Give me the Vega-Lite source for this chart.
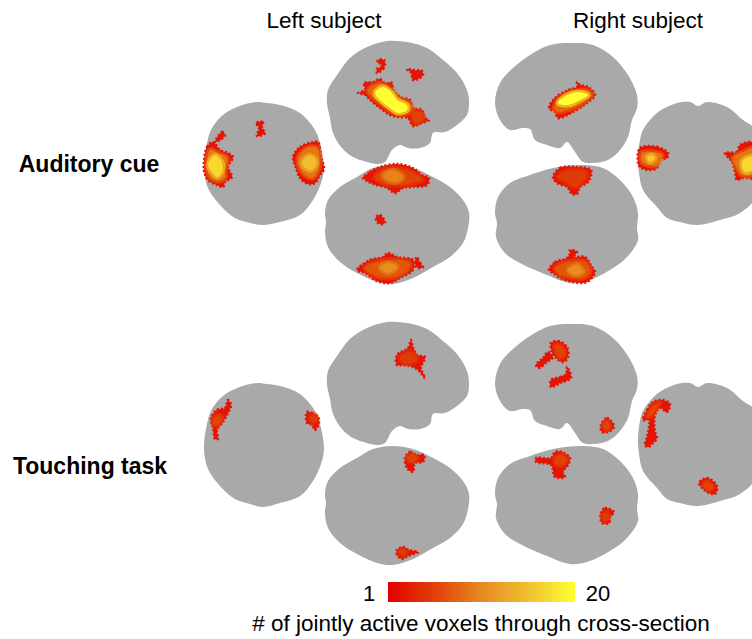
{"$schema":"https://vega.github.io/schema/vega-lite/v6.json","width":752,"height":639,"padding":0,"autosize":"none","background":"white","config":{"view":{"stroke":null}},
"datasets":{
"brains":[
{"s":"a1","x":327,"y":103},{"s":"a1","x":328,"y":90},{"s":"a1","x":337,"y":75},{"s":"a1","x":350,"y":58},{"s":"a1","x":367,"y":47},{"s":"a1","x":387,"y":41},{"s":"a1","x":407,"y":42},{"s":"a1","x":427,"y":48},{"s":"a1","x":443,"y":60},{"s":"a1","x":457,"y":73},{"s":"a1","x":467,"y":90},{"s":"a1","x":469,"y":103},{"s":"a1","x":467,"y":115},{"s":"a1","x":457,"y":125},{"s":"a1","x":445,"y":132},{"s":"a1","x":433,"y":133},{"s":"a1","x":430,"y":143},{"s":"a1","x":420,"y":148},{"s":"a1","x":408,"y":148},{"s":"a1","x":400,"y":145},{"s":"a1","x":392,"y":150},{"s":"a1","x":385,"y":162},{"s":"a1","x":377,"y":164},{"s":"a1","x":367,"y":162},{"s":"a1","x":353,"y":157},{"s":"a1","x":342,"y":148},{"s":"a1","x":333,"y":133},{"s":"a1","x":330,"y":118},
{"s":"a2","x":325,"y":213},{"s":"a2","x":328,"y":200},{"s":"a2","x":340,"y":187},{"s":"a2","x":357,"y":177},{"s":"a2","x":373,"y":168},{"s":"a2","x":393,"y":165},{"s":"a2","x":413,"y":168},{"s":"a2","x":433,"y":177},{"s":"a2","x":450,"y":187},{"s":"a2","x":463,"y":200},{"s":"a2","x":469,"y":213},{"s":"a2","x":468,"y":228},{"s":"a2","x":463,"y":243},{"s":"a2","x":450,"y":257},{"s":"a2","x":433,"y":267},{"s":"a2","x":413,"y":278},{"s":"a2","x":393,"y":284},{"s":"a2","x":377,"y":282},{"s":"a2","x":357,"y":273},{"s":"a2","x":340,"y":262},{"s":"a2","x":328,"y":247},{"s":"a2","x":325,"y":232},{"s":"a2","x":326,"y":222},
{"s":"a3","x":257,"y":102},{"s":"a3","x":237,"y":107},{"s":"a3","x":223,"y":115},{"s":"a3","x":212,"y":128},{"s":"a3","x":207,"y":143},{"s":"a3","x":204,"y":168},{"s":"a3","x":208,"y":188},{"s":"a3","x":220,"y":205},{"s":"a3","x":235,"y":218},{"s":"a3","x":250,"y":223},{"s":"a3","x":263,"y":225},{"s":"a3","x":280,"y":222},{"s":"a3","x":300,"y":215},{"s":"a3","x":313,"y":200},{"s":"a3","x":321,"y":183},{"s":"a3","x":324,"y":168},{"s":"a3","x":320,"y":143},{"s":"a3","x":315,"y":130},{"s":"a3","x":300,"y":113},{"s":"a3","x":280,"y":105},{"s":"a3","x":267,"y":103},
{"s":"a4","x":495,"y":103},{"s":"a4","x":500,"y":83},{"s":"a4","x":513,"y":68},{"s":"a4","x":530,"y":55},{"s":"a4","x":550,"y":45},{"s":"a4","x":570,"y":43},{"s":"a4","x":593,"y":45},{"s":"a4","x":613,"y":57},{"s":"a4","x":628,"y":75},{"s":"a4","x":637,"y":95},{"s":"a4","x":637,"y":108},{"s":"a4","x":632,"y":120},{"s":"a4","x":628,"y":137},{"s":"a4","x":620,"y":150},{"s":"a4","x":608,"y":160},{"s":"a4","x":593,"y":163},{"s":"a4","x":583,"y":162},{"s":"a4","x":575,"y":152},{"s":"a4","x":567,"y":142},{"s":"a4","x":560,"y":148},{"s":"a4","x":547,"y":145},{"s":"a4","x":535,"y":140},{"s":"a4","x":530,"y":129},{"s":"a4","x":522,"y":128},{"s":"a4","x":510,"y":130},{"s":"a4","x":500,"y":120},
{"s":"a5","x":495,"y":213},{"s":"a5","x":498,"y":197},{"s":"a5","x":510,"y":183},{"s":"a5","x":530,"y":175},{"s":"a5","x":553,"y":168},{"s":"a5","x":583,"y":165},{"s":"a5","x":603,"y":168},{"s":"a5","x":620,"y":180},{"s":"a5","x":633,"y":197},{"s":"a5","x":638,"y":213},{"s":"a5","x":637,"y":228},{"s":"a5","x":638,"y":240},{"s":"a5","x":627,"y":257},{"s":"a5","x":610,"y":270},{"s":"a5","x":587,"y":281},{"s":"a5","x":570,"y":283},{"s":"a5","x":547,"y":275},{"s":"a5","x":520,"y":263},{"s":"a5","x":505,"y":253},{"s":"a5","x":496,"y":237},{"s":"a5","x":497,"y":223},
{"s":"a6","x":640,"y":140},{"s":"a6","x":643,"y":130},{"s":"a6","x":657,"y":113},{"s":"a6","x":677,"y":103},{"s":"a6","x":690,"y":102},{"s":"a6","x":698,"y":106},{"s":"a6","x":707,"y":102},{"s":"a6","x":727,"y":107},{"s":"a6","x":743,"y":120},{"s":"a6","x":756,"y":130},{"s":"a6","x":760,"y":160},{"s":"a6","x":756,"y":197},{"s":"a6","x":740,"y":213},{"s":"a6","x":720,"y":220},{"s":"a6","x":697,"y":225},{"s":"a6","x":680,"y":222},{"s":"a6","x":667,"y":218},{"s":"a6","x":657,"y":207},{"s":"a6","x":643,"y":190},{"s":"a6","x":639,"y":173},{"s":"a6","x":638,"y":157},
{"s":"b1","x":327,"y":384},{"s":"b1","x":328,"y":371},{"s":"b1","x":337,"y":356},{"s":"b1","x":350,"y":339},{"s":"b1","x":367,"y":328},{"s":"b1","x":387,"y":322},{"s":"b1","x":407,"y":323},{"s":"b1","x":427,"y":329},{"s":"b1","x":443,"y":341},{"s":"b1","x":457,"y":354},{"s":"b1","x":467,"y":371},{"s":"b1","x":469,"y":384},{"s":"b1","x":467,"y":396},{"s":"b1","x":457,"y":406},{"s":"b1","x":445,"y":413},{"s":"b1","x":433,"y":414},{"s":"b1","x":430,"y":424},{"s":"b1","x":420,"y":429},{"s":"b1","x":408,"y":429},{"s":"b1","x":400,"y":426},{"s":"b1","x":392,"y":431},{"s":"b1","x":385,"y":443},{"s":"b1","x":377,"y":445},{"s":"b1","x":367,"y":443},{"s":"b1","x":353,"y":438},{"s":"b1","x":342,"y":429},{"s":"b1","x":333,"y":414},{"s":"b1","x":330,"y":399},
{"s":"b2","x":325,"y":494},{"s":"b2","x":328,"y":481},{"s":"b2","x":340,"y":468},{"s":"b2","x":357,"y":458},{"s":"b2","x":373,"y":449},{"s":"b2","x":393,"y":446},{"s":"b2","x":413,"y":449},{"s":"b2","x":433,"y":458},{"s":"b2","x":450,"y":468},{"s":"b2","x":463,"y":481},{"s":"b2","x":469,"y":494},{"s":"b2","x":468,"y":509},{"s":"b2","x":463,"y":524},{"s":"b2","x":450,"y":538},{"s":"b2","x":433,"y":548},{"s":"b2","x":413,"y":559},{"s":"b2","x":393,"y":565},{"s":"b2","x":377,"y":563},{"s":"b2","x":357,"y":554},{"s":"b2","x":340,"y":543},{"s":"b2","x":328,"y":528},{"s":"b2","x":325,"y":513},{"s":"b2","x":326,"y":503},
{"s":"b3","x":257,"y":383},{"s":"b3","x":237,"y":388},{"s":"b3","x":223,"y":396},{"s":"b3","x":212,"y":409},{"s":"b3","x":207,"y":424},{"s":"b3","x":204,"y":449},{"s":"b3","x":208,"y":469},{"s":"b3","x":220,"y":486},{"s":"b3","x":235,"y":499},{"s":"b3","x":250,"y":504},{"s":"b3","x":263,"y":507},{"s":"b3","x":280,"y":503},{"s":"b3","x":300,"y":496},{"s":"b3","x":313,"y":481},{"s":"b3","x":321,"y":464},{"s":"b3","x":324,"y":449},{"s":"b3","x":320,"y":424},{"s":"b3","x":315,"y":411},{"s":"b3","x":300,"y":394},{"s":"b3","x":280,"y":386},{"s":"b3","x":267,"y":384},
{"s":"b4","x":495,"y":384},{"s":"b4","x":500,"y":364},{"s":"b4","x":513,"y":349},{"s":"b4","x":530,"y":336},{"s":"b4","x":550,"y":326},{"s":"b4","x":570,"y":324},{"s":"b4","x":593,"y":326},{"s":"b4","x":613,"y":338},{"s":"b4","x":628,"y":356},{"s":"b4","x":637,"y":376},{"s":"b4","x":637,"y":389},{"s":"b4","x":632,"y":401},{"s":"b4","x":628,"y":418},{"s":"b4","x":620,"y":431},{"s":"b4","x":608,"y":441},{"s":"b4","x":593,"y":444},{"s":"b4","x":583,"y":443},{"s":"b4","x":575,"y":433},{"s":"b4","x":567,"y":423},{"s":"b4","x":560,"y":429},{"s":"b4","x":547,"y":426},{"s":"b4","x":535,"y":421},{"s":"b4","x":530,"y":410},{"s":"b4","x":522,"y":409},{"s":"b4","x":510,"y":411},{"s":"b4","x":500,"y":401},
{"s":"b5","x":495,"y":494},{"s":"b5","x":498,"y":478},{"s":"b5","x":510,"y":464},{"s":"b5","x":530,"y":456},{"s":"b5","x":553,"y":449},{"s":"b5","x":583,"y":446},{"s":"b5","x":603,"y":449},{"s":"b5","x":620,"y":461},{"s":"b5","x":633,"y":478},{"s":"b5","x":638,"y":494},{"s":"b5","x":637,"y":509},{"s":"b5","x":638,"y":521},{"s":"b5","x":627,"y":538},{"s":"b5","x":610,"y":551},{"s":"b5","x":587,"y":562},{"s":"b5","x":570,"y":564},{"s":"b5","x":547,"y":556},{"s":"b5","x":520,"y":544},{"s":"b5","x":505,"y":534},{"s":"b5","x":496,"y":518},{"s":"b5","x":497,"y":504},
{"s":"b6","x":640,"y":421},{"s":"b6","x":643,"y":411},{"s":"b6","x":657,"y":394},{"s":"b6","x":677,"y":384},{"s":"b6","x":690,"y":383},{"s":"b6","x":698,"y":387},{"s":"b6","x":707,"y":383},{"s":"b6","x":727,"y":388},{"s":"b6","x":743,"y":401},{"s":"b6","x":756,"y":411},{"s":"b6","x":760,"y":441},{"s":"b6","x":756,"y":478},{"s":"b6","x":740,"y":494},{"s":"b6","x":720,"y":501},{"s":"b6","x":697,"y":506},{"s":"b6","x":680,"y":503},{"s":"b6","x":667,"y":499},{"s":"b6","x":657,"y":488},{"s":"b6","x":643,"y":471},{"s":"b6","x":639,"y":454},{"s":"b6","x":638,"y":438}
],
"hot":[
{"s":"h01","v":1,"x":358,"y":93},{"s":"h01","v":1,"x":365,"y":90},{"s":"h01","v":1,"x":364,"y":83},{"s":"h01","v":1,"x":373,"y":82},{"s":"h01","v":1,"x":380,"y":79},{"s":"h01","v":1,"x":385,"y":83},{"s":"h01","v":1,"x":392,"y":83},{"s":"h01","v":1,"x":393,"y":90},{"s":"h01","v":1,"x":400,"y":97},{"s":"h01","v":1,"x":410,"y":100},{"s":"h01","v":1,"x":413,"y":108},{"s":"h01","v":1,"x":422,"y":110},{"s":"h01","v":1,"x":425,"y":118},{"s":"h01","v":1,"x":429,"y":120},{"s":"h01","v":1,"x":422,"y":123},{"s":"h01","v":1,"x":413,"y":126},{"s":"h01","v":1,"x":408,"y":118},{"s":"h01","v":1,"x":398,"y":117},{"s":"h01","v":1,"x":390,"y":115},{"s":"h01","v":1,"x":380,"y":108},{"s":"h01","v":1,"x":370,"y":100},{"s":"h01","v":1,"x":365,"y":95},
{"s":"h02","v":8,"x":368,"y":90},{"s":"h02","v":8,"x":380,"y":83},{"s":"h02","v":8,"x":390,"y":88},{"s":"h02","v":8,"x":400,"y":98},{"s":"h02","v":8,"x":410,"y":103},{"s":"h02","v":8,"x":412,"y":110},{"s":"h02","v":8,"x":403,"y":115},{"s":"h02","v":8,"x":392,"y":112},{"s":"h02","v":8,"x":380,"y":103},{"s":"h02","v":8,"x":372,"y":97},
{"s":"h03","v":6,"x":413,"y":112},{"s":"h03","v":6,"x":422,"y":113},{"s":"h03","v":6,"x":423,"y":120},{"s":"h03","v":6,"x":415,"y":123},
{"s":"h04","v":20,"x":375,"y":93},{"s":"h04","v":20,"x":383,"y":87},{"s":"h04","v":20,"x":392,"y":93},{"s":"h04","v":20,"x":397,"y":100},{"s":"h04","v":20,"x":407,"y":105},{"s":"h04","v":20,"x":407,"y":110},{"s":"h04","v":20,"x":398,"y":113},{"s":"h04","v":20,"x":390,"y":108},{"s":"h04","v":20,"x":382,"y":102},
{"s":"h05","v":1,"x":377,"y":73},{"s":"h05","v":1,"x":383,"y":69},{"s":"h05","v":1,"x":385,"y":65},{"s":"h05","v":1,"x":384,"y":60},{"s":"h05","v":1,"x":378,"y":60},{"s":"h05","v":1,"x":378,"y":63},{"s":"h05","v":1,"x":381,"y":64},{"s":"h05","v":1,"x":381,"y":67},{"s":"h05","v":1,"x":377,"y":69},
{"s":"h06","v":1,"x":407,"y":69},{"s":"h06","v":1,"x":413,"y":70},{"s":"h06","v":1,"x":422,"y":71},{"s":"h06","v":1,"x":423,"y":75},{"s":"h06","v":1,"x":418,"y":79},{"s":"h06","v":1,"x":413,"y":80},{"s":"h06","v":1,"x":411,"y":73},
{"s":"h07","v":1,"x":363,"y":178},{"s":"h07","v":1,"x":370,"y":172},{"s":"h07","v":1,"x":380,"y":167},{"s":"h07","v":1,"x":397,"y":164},{"s":"h07","v":1,"x":413,"y":168},{"s":"h07","v":1,"x":422,"y":175},{"s":"h07","v":1,"x":429,"y":178},{"s":"h07","v":1,"x":427,"y":185},{"s":"h07","v":1,"x":413,"y":187},{"s":"h07","v":1,"x":403,"y":188},{"s":"h07","v":1,"x":395,"y":193},{"s":"h07","v":1,"x":387,"y":188},{"s":"h07","v":1,"x":373,"y":184},{"s":"h07","v":1,"x":367,"y":181},
{"s":"h08","v":6,"x":375,"y":177},{"s":"h08","v":6,"x":383,"y":170},{"s":"h08","v":6,"x":397,"y":168},{"s":"h08","v":6,"x":413,"y":173},{"s":"h08","v":6,"x":422,"y":180},{"s":"h08","v":6,"x":413,"y":183},{"s":"h08","v":6,"x":397,"y":185},{"s":"h08","v":6,"x":382,"y":183},
{"s":"h09","v":10,"x":383,"y":175},{"s":"h09","v":10,"x":393,"y":170},{"s":"h09","v":10,"x":403,"y":177},{"s":"h09","v":10,"x":397,"y":182},{"s":"h09","v":10,"x":387,"y":180},
{"s":"h10","v":1,"x":376,"y":217},{"s":"h10","v":1,"x":380,"y":215},{"s":"h10","v":1,"x":385,"y":222},{"s":"h10","v":1,"x":383,"y":224},{"s":"h10","v":1,"x":378,"y":223},
{"s":"h11","v":1,"x":357,"y":270},{"s":"h11","v":1,"x":370,"y":260},{"s":"h11","v":1,"x":383,"y":257},{"s":"h11","v":1,"x":388,"y":253},{"s":"h11","v":1,"x":397,"y":257},{"s":"h11","v":1,"x":413,"y":260},{"s":"h11","v":1,"x":413,"y":270},{"s":"h11","v":1,"x":400,"y":278},{"s":"h11","v":1,"x":390,"y":283},{"s":"h11","v":1,"x":377,"y":281},{"s":"h11","v":1,"x":365,"y":273},
{"s":"h12","v":1,"x":417,"y":257},{"s":"h12","v":1,"x":420,"y":263},{"s":"h12","v":1,"x":423,"y":267},{"s":"h12","v":1,"x":418,"y":268},{"s":"h12","v":1,"x":415,"y":263},
{"s":"h13","v":7,"x":365,"y":268},{"s":"h13","v":7,"x":377,"y":262},{"s":"h13","v":7,"x":397,"y":260},{"s":"h13","v":7,"x":410,"y":263},{"s":"h13","v":7,"x":408,"y":270},{"s":"h13","v":7,"x":395,"y":277},{"s":"h13","v":7,"x":380,"y":277},{"s":"h13","v":7,"x":370,"y":273},
{"s":"h14","v":11,"x":380,"y":267},{"s":"h14","v":11,"x":388,"y":263},{"s":"h14","v":11,"x":397,"y":267},{"s":"h14","v":11,"x":388,"y":273},
{"s":"h15","v":1,"x":204,"y":170},{"s":"h15","v":1,"x":207,"y":147},{"s":"h15","v":1,"x":213,"y":142},{"s":"h15","v":1,"x":220,"y":150},{"s":"h15","v":1,"x":228,"y":153},{"s":"h15","v":1,"x":233,"y":157},{"s":"h15","v":1,"x":228,"y":167},{"s":"h15","v":1,"x":232,"y":177},{"s":"h15","v":1,"x":225,"y":182},{"s":"h15","v":1,"x":223,"y":187},{"s":"h15","v":1,"x":217,"y":185},{"s":"h15","v":1,"x":208,"y":180},
{"s":"h16","v":9,"x":207,"y":168},{"s":"h16","v":9,"x":210,"y":150},{"s":"h16","v":9,"x":218,"y":153},{"s":"h16","v":9,"x":227,"y":158},{"s":"h16","v":9,"x":225,"y":170},{"s":"h16","v":9,"x":225,"y":178},{"s":"h16","v":9,"x":217,"y":181},{"s":"h16","v":9,"x":210,"y":177},
{"s":"h17","v":17,"x":208,"y":165},{"s":"h17","v":17,"x":215,"y":155},{"s":"h17","v":17,"x":222,"y":162},{"s":"h17","v":17,"x":222,"y":172},{"s":"h17","v":17,"x":217,"y":177},{"s":"h17","v":17,"x":212,"y":172},
{"s":"h18","v":1,"x":215,"y":142},{"s":"h18","v":1,"x":222,"y":132},{"s":"h18","v":1,"x":225,"y":135},{"s":"h18","v":1,"x":220,"y":140},
{"s":"h19","v":1,"x":256,"y":123},{"s":"h19","v":1,"x":263,"y":122},{"s":"h19","v":1,"x":262,"y":128},{"s":"h19","v":1,"x":265,"y":133},{"s":"h19","v":1,"x":257,"y":136},{"s":"h19","v":1,"x":259,"y":128},
{"s":"h20","v":1,"x":293,"y":157},{"s":"h20","v":1,"x":300,"y":147},{"s":"h20","v":1,"x":313,"y":142},{"s":"h20","v":1,"x":318,"y":142},{"s":"h20","v":1,"x":321,"y":157},{"s":"h20","v":1,"x":324,"y":169},{"s":"h20","v":1,"x":320,"y":175},{"s":"h20","v":1,"x":315,"y":183},{"s":"h20","v":1,"x":308,"y":184},{"s":"h20","v":1,"x":300,"y":178},{"s":"h20","v":1,"x":296,"y":168},
{"s":"h21","v":9,"x":298,"y":158},{"s":"h21","v":9,"x":307,"y":148},{"s":"h21","v":9,"x":317,"y":148},{"s":"h21","v":9,"x":319,"y":168},{"s":"h21","v":9,"x":312,"y":178},{"s":"h21","v":9,"x":302,"y":172},
{"s":"h22","v":15,"x":302,"y":162},{"s":"h22","v":15,"x":310,"y":155},{"s":"h22","v":15,"x":317,"y":162},{"s":"h22","v":15,"x":312,"y":170},{"s":"h22","v":15,"x":305,"y":168},
{"s":"h23","v":1,"x":549,"y":108},{"s":"h23","v":1,"x":555,"y":98},{"s":"h23","v":1,"x":568,"y":90},{"s":"h23","v":1,"x":577,"y":87},{"s":"h23","v":1,"x":577,"y":82},{"s":"h23","v":1,"x":580,"y":85},{"s":"h23","v":1,"x":588,"y":87},{"s":"h23","v":1,"x":595,"y":95},{"s":"h23","v":1,"x":587,"y":103},{"s":"h23","v":1,"x":573,"y":112},{"s":"h23","v":1,"x":558,"y":118},{"s":"h23","v":1,"x":555,"y":112},
{"s":"h24","v":8,"x":554,"y":108},{"s":"h24","v":8,"x":560,"y":98},{"s":"h24","v":8,"x":572,"y":92},{"s":"h24","v":8,"x":587,"y":90},{"s":"h24","v":8,"x":592,"y":95},{"s":"h24","v":8,"x":580,"y":105},{"s":"h24","v":8,"x":567,"y":110},{"s":"h24","v":8,"x":558,"y":112},
{"s":"h25","v":20,"x":558,"y":103},{"s":"h25","v":20,"x":567,"y":95},{"s":"h25","v":20,"x":578,"y":92},{"s":"h25","v":20,"x":588,"y":95},{"s":"h25","v":20,"x":580,"y":100},{"s":"h25","v":20,"x":568,"y":105},
{"s":"h26","v":1,"x":553,"y":177},{"s":"h26","v":1,"x":560,"y":168},{"s":"h26","v":1,"x":577,"y":167},{"s":"h26","v":1,"x":591,"y":170},{"s":"h26","v":1,"x":588,"y":182},{"s":"h26","v":1,"x":580,"y":187},{"s":"h26","v":1,"x":577,"y":194},{"s":"h26","v":1,"x":572,"y":194},{"s":"h26","v":1,"x":567,"y":187},{"s":"h26","v":1,"x":557,"y":183},
{"s":"h27","v":5,"x":558,"y":177},{"s":"h27","v":5,"x":563,"y":172},{"s":"h27","v":5,"x":577,"y":170},{"s":"h27","v":5,"x":587,"y":173},{"s":"h27","v":5,"x":583,"y":182},{"s":"h27","v":5,"x":575,"y":187},{"s":"h27","v":5,"x":567,"y":183},
{"s":"h28","v":1,"x":549,"y":270},{"s":"h28","v":1,"x":555,"y":262},{"s":"h28","v":1,"x":567,"y":258},{"s":"h28","v":1,"x":570,"y":253},{"s":"h28","v":1,"x":570,"y":250},{"s":"h28","v":1,"x":577,"y":252},{"s":"h28","v":1,"x":573,"y":257},{"s":"h28","v":1,"x":585,"y":257},{"s":"h28","v":1,"x":592,"y":267},{"s":"h28","v":1,"x":595,"y":272},{"s":"h28","v":1,"x":587,"y":282},{"s":"h28","v":1,"x":573,"y":282},{"s":"h28","v":1,"x":560,"y":278},{"s":"h28","v":1,"x":553,"y":273},
{"s":"h29","v":7,"x":555,"y":268},{"s":"h29","v":7,"x":568,"y":262},{"s":"h29","v":7,"x":585,"y":262},{"s":"h29","v":7,"x":590,"y":272},{"s":"h29","v":7,"x":583,"y":278},{"s":"h29","v":7,"x":568,"y":277},{"s":"h29","v":7,"x":560,"y":275},
{"s":"h30","v":11,"x":568,"y":270},{"s":"h30","v":11,"x":577,"y":265},{"s":"h30","v":11,"x":583,"y":272},{"s":"h30","v":11,"x":575,"y":275},
{"s":"h31","v":1,"x":640,"y":148},{"s":"h31","v":1,"x":657,"y":147},{"s":"h31","v":1,"x":668,"y":153},{"s":"h31","v":1,"x":667,"y":158},{"s":"h31","v":1,"x":660,"y":160},{"s":"h31","v":1,"x":657,"y":168},{"s":"h31","v":1,"x":648,"y":170},{"s":"h31","v":1,"x":640,"y":167},{"s":"h31","v":1,"x":638,"y":163},
{"s":"h32","v":9,"x":642,"y":153},{"s":"h32","v":9,"x":653,"y":152},{"s":"h32","v":9,"x":662,"y":155},{"s":"h32","v":9,"x":657,"y":165},{"s":"h32","v":9,"x":647,"y":165},{"s":"h32","v":9,"x":642,"y":162},
{"s":"h33","v":16,"x":647,"y":157},{"s":"h33","v":16,"x":652,"y":155},{"s":"h33","v":16,"x":655,"y":158},{"s":"h33","v":16,"x":650,"y":162},
{"s":"h34","v":1,"x":725,"y":153},{"s":"h34","v":1,"x":737,"y":152},{"s":"h34","v":1,"x":740,"y":145},{"s":"h34","v":1,"x":756,"y":143},{"s":"h34","v":1,"x":756,"y":177},{"s":"h34","v":1,"x":743,"y":178},{"s":"h34","v":1,"x":737,"y":180},{"s":"h34","v":1,"x":735,"y":172},{"s":"h34","v":1,"x":732,"y":162},
{"s":"h35","v":9,"x":733,"y":158},{"s":"h35","v":9,"x":743,"y":152},{"s":"h35","v":9,"x":756,"y":148},{"s":"h35","v":9,"x":756,"y":173},{"s":"h35","v":9,"x":742,"y":175},{"s":"h35","v":9,"x":737,"y":168},
{"s":"h36","v":17,"x":742,"y":162},{"s":"h36","v":17,"x":748,"y":157},{"s":"h36","v":17,"x":756,"y":157},{"s":"h36","v":17,"x":756,"y":168},{"s":"h36","v":17,"x":745,"y":172},
{"s":"h37","v":1,"x":397,"y":355},{"s":"h37","v":1,"x":408,"y":348},{"s":"h37","v":1,"x":411,"y":340},{"s":"h37","v":1,"x":413,"y":347},{"s":"h37","v":1,"x":417,"y":355},{"s":"h37","v":1,"x":425,"y":357},{"s":"h37","v":1,"x":421,"y":368},{"s":"h37","v":1,"x":425,"y":378},{"s":"h37","v":1,"x":420,"y":372},{"s":"h37","v":1,"x":413,"y":367},{"s":"h37","v":1,"x":403,"y":365},{"s":"h37","v":1,"x":397,"y":365},
{"s":"h38","v":5,"x":400,"y":358},{"s":"h38","v":5,"x":410,"y":352},{"s":"h38","v":5,"x":417,"y":358},{"s":"h38","v":5,"x":413,"y":363},{"s":"h38","v":5,"x":403,"y":363},
{"s":"h39","v":1,"x":405,"y":458},{"s":"h39","v":1,"x":410,"y":452},{"s":"h39","v":1,"x":417,"y":455},{"s":"h39","v":1,"x":424,"y":455},{"s":"h39","v":1,"x":423,"y":462},{"s":"h39","v":1,"x":415,"y":463},{"s":"h39","v":1,"x":413,"y":472},{"s":"h39","v":1,"x":407,"y":468},
{"s":"h40","v":6,"x":407,"y":458},{"s":"h40","v":6,"x":412,"y":454},{"s":"h40","v":6,"x":417,"y":458},{"s":"h40","v":6,"x":413,"y":462},
{"s":"h41","v":1,"x":397,"y":550},{"s":"h41","v":1,"x":403,"y":547},{"s":"h41","v":1,"x":409,"y":550},{"s":"h41","v":1,"x":418,"y":552},{"s":"h41","v":1,"x":408,"y":556},{"s":"h41","v":1,"x":402,"y":559},{"s":"h41","v":1,"x":397,"y":555},
{"s":"h42","v":5,"x":399,"y":551},{"s":"h42","v":5,"x":404,"y":549},{"s":"h42","v":5,"x":407,"y":552},{"s":"h42","v":5,"x":403,"y":556},
{"s":"h43","v":1,"x":211,"y":418},{"s":"h43","v":1,"x":217,"y":410},{"s":"h43","v":1,"x":225,"y":408},{"s":"h43","v":1,"x":228,"y":400},{"s":"h43","v":1,"x":231,"y":405},{"s":"h43","v":1,"x":228,"y":413},{"s":"h43","v":1,"x":223,"y":422},{"s":"h43","v":1,"x":217,"y":430},{"s":"h43","v":1,"x":218,"y":439},{"s":"h43","v":1,"x":215,"y":439},{"s":"h43","v":1,"x":213,"y":428},
{"s":"h44","v":6,"x":213,"y":420},{"s":"h44","v":6,"x":218,"y":415},{"s":"h44","v":6,"x":222,"y":418},{"s":"h44","v":6,"x":218,"y":425},{"s":"h44","v":6,"x":214,"y":425},
{"s":"h45","v":1,"x":307,"y":412},{"s":"h45","v":1,"x":312,"y":413},{"s":"h45","v":1,"x":318,"y":417},{"s":"h45","v":1,"x":319,"y":423},{"s":"h45","v":1,"x":315,"y":430},{"s":"h45","v":1,"x":312,"y":425},{"s":"h45","v":1,"x":307,"y":423},
{"s":"h46","v":5,"x":310,"y":417},{"s":"h46","v":5,"x":315,"y":415},{"s":"h46","v":5,"x":317,"y":420},{"s":"h46","v":5,"x":313,"y":423},
{"s":"h47","v":1,"x":551,"y":343},{"s":"h47","v":1,"x":558,"y":341},{"s":"h47","v":1,"x":567,"y":347},{"s":"h47","v":1,"x":568,"y":357},{"s":"h47","v":1,"x":563,"y":362},{"s":"h47","v":1,"x":555,"y":357},{"s":"h47","v":1,"x":552,"y":352},
{"s":"h48","v":6,"x":555,"y":345},{"s":"h48","v":6,"x":562,"y":347},{"s":"h48","v":6,"x":565,"y":355},{"s":"h48","v":6,"x":560,"y":358},{"s":"h48","v":6,"x":556,"y":352},
{"s":"h49","v":1,"x":536,"y":365},{"s":"h49","v":1,"x":543,"y":358},{"s":"h49","v":1,"x":548,"y":352},{"s":"h49","v":1,"x":553,"y":357},{"s":"h49","v":1,"x":547,"y":362},{"s":"h49","v":1,"x":539,"y":368},
{"s":"h50","v":1,"x":551,"y":380},{"s":"h50","v":1,"x":560,"y":377},{"s":"h50","v":1,"x":566,"y":374},{"s":"h50","v":1,"x":567,"y":367},{"s":"h50","v":1,"x":571,"y":378},{"s":"h50","v":1,"x":560,"y":383},{"s":"h50","v":1,"x":551,"y":387},
{"s":"h51","v":1,"x":601,"y":425},{"s":"h51","v":1,"x":607,"y":418},{"s":"h51","v":1,"x":612,"y":422},{"s":"h51","v":1,"x":614,"y":427},{"s":"h51","v":1,"x":608,"y":432},{"s":"h51","v":1,"x":602,"y":432},
{"s":"h52","v":6,"x":603,"y":425},{"s":"h52","v":6,"x":607,"y":421},{"s":"h52","v":6,"x":610,"y":427},{"s":"h52","v":6,"x":606,"y":430},
{"s":"h53","v":1,"x":536,"y":458},{"s":"h53","v":1,"x":551,"y":458},{"s":"h53","v":1,"x":555,"y":452},{"s":"h53","v":1,"x":562,"y":452},{"s":"h53","v":1,"x":570,"y":458},{"s":"h53","v":1,"x":568,"y":465},{"s":"h53","v":1,"x":563,"y":472},{"s":"h53","v":1,"x":565,"y":477},{"s":"h53","v":1,"x":555,"y":477},{"s":"h53","v":1,"x":551,"y":465},{"s":"h53","v":1,"x":536,"y":462},
{"s":"h54","v":6,"x":555,"y":458},{"s":"h54","v":6,"x":562,"y":455},{"s":"h54","v":6,"x":567,"y":460},{"s":"h54","v":6,"x":562,"y":465},{"s":"h54","v":6,"x":556,"y":464},
{"s":"h55","v":1,"x":601,"y":513},{"s":"h55","v":1,"x":605,"y":508},{"s":"h55","v":1,"x":614,"y":512},{"s":"h55","v":1,"x":610,"y":517},{"s":"h55","v":1,"x":609,"y":523},{"s":"h55","v":1,"x":602,"y":523},
{"s":"h56","v":5,"x":602,"y":515},{"s":"h56","v":5,"x":607,"y":512},{"s":"h56","v":5,"x":609,"y":518},{"s":"h56","v":5,"x":604,"y":521},
{"s":"h57","v":1,"x":643,"y":420},{"s":"h57","v":1,"x":647,"y":410},{"s":"h57","v":1,"x":653,"y":402},{"s":"h57","v":1,"x":662,"y":400},{"s":"h57","v":1,"x":670,"y":404},{"s":"h57","v":1,"x":667,"y":412},{"s":"h57","v":1,"x":660,"y":408},{"s":"h57","v":1,"x":655,"y":415},{"s":"h57","v":1,"x":655,"y":432},{"s":"h57","v":1,"x":657,"y":438},{"s":"h57","v":1,"x":653,"y":443},{"s":"h57","v":1,"x":648,"y":447},{"s":"h57","v":1,"x":645,"y":445},{"s":"h57","v":1,"x":647,"y":437},{"s":"h57","v":1,"x":649,"y":427},{"s":"h57","v":1,"x":649,"y":420},
{"s":"h58","v":6,"x":647,"y":417},{"s":"h58","v":6,"x":652,"y":407},{"s":"h58","v":6,"x":660,"y":403},{"s":"h58","v":6,"x":657,"y":408},{"s":"h58","v":6,"x":652,"y":415},
{"s":"h59","v":1,"x":699,"y":483},{"s":"h59","v":1,"x":707,"y":478},{"s":"h59","v":1,"x":717,"y":486},{"s":"h59","v":1,"x":715,"y":494},{"s":"h59","v":1,"x":707,"y":492},
{"s":"h60","v":6,"x":703,"y":485},{"s":"h60","v":6,"x":708,"y":482},{"s":"h60","v":6,"x":713,"y":488},{"s":"h60","v":6,"x":708,"y":490}
],
"labels":[
{"t":"Left subject","x":324,"y":21,"w":"normal","z":22.5},
{"t":"Right subject","x":638,"y":21,"w":"normal","z":22.5},
{"t":"Auditory cue","x":89,"y":165,"w":"bold","z":23},
{"t":"Touching task","x":90,"y":467,"w":"bold","z":23},
{"t":"1","x":369,"y":594,"w":"normal","z":22},
{"t":"20","x":598,"y":594,"w":"normal","z":22},
{"t":"# of jointly active voxels through cross-section","x":481,"y":624,"w":"normal","z":22.5}
]},
"layer":[
{"data":{"name":"brains"},"transform":[{"window":[{"op":"row_number","as":"i"}]}],"mark":{"type":"line","fill":"#a9a9a9","strokeWidth":0,"interpolate":"catmull-rom-closed","clip":true},"encoding":{"x":{"field":"x","type":"quantitative","scale":{"domain":[0,752],"nice":false,"zero":false},"axis":null},"y":{"field":"y","type":"quantitative","scale":{"domain":[639,0],"nice":false,"zero":false},"axis":null},"detail":{"field":"s"},"order":{"field":"i"}}},
{"data":{"name":"hot"},"transform":[{"window":[{"op":"row_number","as":"i"}]},{"filter":"datum.v==1"}],"mark":{"type":"line","fill":"#e61405","stroke":"#e61405","strokeWidth":2.5,"strokeDash":[2,2],"interpolate":"catmull-rom-closed","clip":true},"encoding":{"x":{"field":"x","type":"quantitative","axis":null},"y":{"field":"y","type":"quantitative","axis":null},"detail":{"field":"s"},"order":{"field":"i"}}},
{"data":{"name":"hot"},"transform":[{"window":[{"op":"row_number","as":"i"}]},{"filter":"datum.v>1"}],"mark":{"type":"line","strokeWidth":5,"strokeOpacity":0.5,"interpolate":"catmull-rom-closed","clip":true},"encoding":{"x":{"field":"x","type":"quantitative","axis":null},"y":{"field":"y","type":"quantitative","axis":null},"detail":{"field":"s"},"order":{"field":"i"},"fill":{"field":"v","type":"quantitative","legend":null,"scale":{"domain":[1,5.75,10.5,15.25,20],"range":["#e00000","#e04008","#e68a20","#f0c030","#ffff33"]}},"stroke":{"field":"v","type":"quantitative","legend":null,"scale":{"domain":[1,5.75,10.5,15.25,20],"range":["#e00000","#e04008","#e68a20","#f0c030","#ffff33"]}}}},
{"data":{"values":[{"a":388,"b":575,"c":582,"d":602}]},"mark":{"type":"rect","fill":{"gradient":"linear","x1":0,"y1":0,"x2":1,"y2":0,"stops":[{"offset":0,"color":"#e00000"},{"offset":0.25,"color":"#e04008"},{"offset":0.5,"color":"#e68a20"},{"offset":0.75,"color":"#f0c030"},{"offset":1,"color":"#ffff33"}]}},"encoding":{"x":{"field":"a","type":"quantitative","axis":null},"x2":{"field":"b"},"y":{"field":"c","type":"quantitative","axis":null},"y2":{"field":"d"}}},
{"data":{"name":"labels"},"transform":[{"filter":"datum.w=='normal'"}],"mark":{"type":"text","font":"Liberation Sans","align":"center","baseline":"middle","color":"black"},"encoding":{"x":{"field":"x","type":"quantitative","axis":null},"y":{"field":"y","type":"quantitative","axis":null},"text":{"field":"t"},"size":{"field":"z","type":"quantitative","scale":null}}},
{"data":{"name":"labels"},"transform":[{"filter":"datum.w=='bold'"}],"mark":{"type":"text","font":"Liberation Sans","fontWeight":"bold","align":"center","baseline":"middle","color":"black"},"encoding":{"x":{"field":"x","type":"quantitative","axis":null},"y":{"field":"y","type":"quantitative","axis":null},"text":{"field":"t"},"size":{"field":"z","type":"quantitative","scale":null}}}
]}
